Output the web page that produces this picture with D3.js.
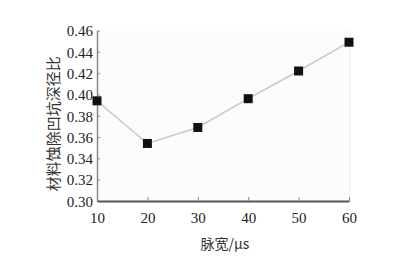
<!DOCTYPE html>
<html>
<head>
<meta charset="utf-8">
<script src="https://cdn.jsdelivr.net/npm/d3@7"></script>
<style>
  body { margin: 0; background: #fff; }
  svg { display: block; }
</style>
</head>
<body>
<svg width="403" height="258"></svg>
<script>
  // pulse width (us) vs. crater depth/diameter ratio
  var pulseWidth = [10, 20, 30, 40, 50, 60];
  var ratio = [0.394, 0.354, 0.369, 0.396, 0.422, 0.449];
  var yTicks = [0.30, 0.32, 0.34, 0.36, 0.38, 0.40, 0.42, 0.44, 0.46];
  var xTicks = [10, 20, 30, 40, 50, 60];

  var svg = d3.select("svg"),
      plotL = 97, plotR = 349, plotT = 30.5, plotB = 201;

  var x = d3.scaleLinear().domain([10, 60]).range([plotL, plotR]);
  var y = d3.scaleLinear().domain([0.30, 0.46]).range([plotB, plotT]);

  var serif = "'Liberation Serif','DejaVu Serif',serif";
  var cjk = "'Noto Sans CJK SC','Noto Sans CJK JP',sans-serif";

  // faint plot background + right border
  svg.append("rect")
    .attr("x", plotL).attr("y", plotT)
    .attr("width", plotR - plotL).attr("height", plotB - plotT)
    .attr("fill", "#fcfcfc");
  svg.append("line")
    .attr("x1", plotR + 1).attr("x2", plotR + 1)
    .attr("y1", plotT).attr("y2", plotB)
    .attr("stroke", "#ececec").attr("stroke-width", 1);

  // y axis
  var yAxis = svg.append("g")
    .attr("transform", "translate(" + plotL + ",0)")
    .call(d3.axisRight(y).tickValues(yTicks).tickSize(3).tickSizeOuter(0).tickFormat(d3.format(".2f")));
  yAxis.select(".domain").attr("stroke", "#888").attr("stroke-width", 1.5);
  yAxis.selectAll(".tick line").attr("stroke", "#888");
  yAxis.selectAll(".tick text")
    .attr("x", -4).attr("dy", "0.35em").attr("text-anchor", "end")
    .attr("font-family", serif).attr("font-size", 15).attr("fill", "#222");

  // x axis
  var xAxis = svg.append("g")
    .attr("transform", "translate(0," + plotB + ")")
    .call(d3.axisTop(x).tickValues(xTicks).tickSize(4).tickSizeOuter(0));
  xAxis.select(".domain").attr("stroke", "#555").attr("stroke-width", 2);
  xAxis.selectAll(".tick line").attr("stroke", "#888");
  xAxis.selectAll(".tick text")
    .attr("y", 17).attr("dy", "0.35em")
    .attr("font-family", serif).attr("font-size", 15).attr("fill", "#222");

  // series line
  var line = d3.line()
    .x(function(d, i) { return x(pulseWidth[i]); })
    .y(function(d) { return y(d); });
  svg.append("path")
    .datum(ratio)
    .attr("d", line)
    .attr("fill", "none")
    .attr("stroke", "#c8c8c8")
    .attr("stroke-width", 1.5);

  // square markers
  svg.selectAll("rect.pt")
    .data(ratio)
    .enter().append("rect")
    .attr("class", "pt")
    .attr("x", function(d, i) { return x(pulseWidth[i]) - 4.5; })
    .attr("y", function(d) { return y(d) - 4.5; })
    .attr("width", 9).attr("height", 9)
    .attr("fill", "#111");

  // titles
  svg.append("text")
    .attr("transform", "translate(52," + ((plotT + plotB) / 2 + 8) + ") rotate(-90)")
    .attr("text-anchor", "middle")
    .attr("dominant-baseline", "central")
    .attr("font-family", cjk).attr("font-size", 15).attr("fill", "#333")
    .text("材料蚀除凹坑深径比");

  svg.append("text")
    .attr("x", 225).attr("y", 243)
    .attr("text-anchor", "middle")
    .attr("dominant-baseline", "central")
    .attr("font-family", cjk).attr("font-size", 14).attr("fill", "#333")
    .text("脉宽/μs");
</script>
</body>
</html>
